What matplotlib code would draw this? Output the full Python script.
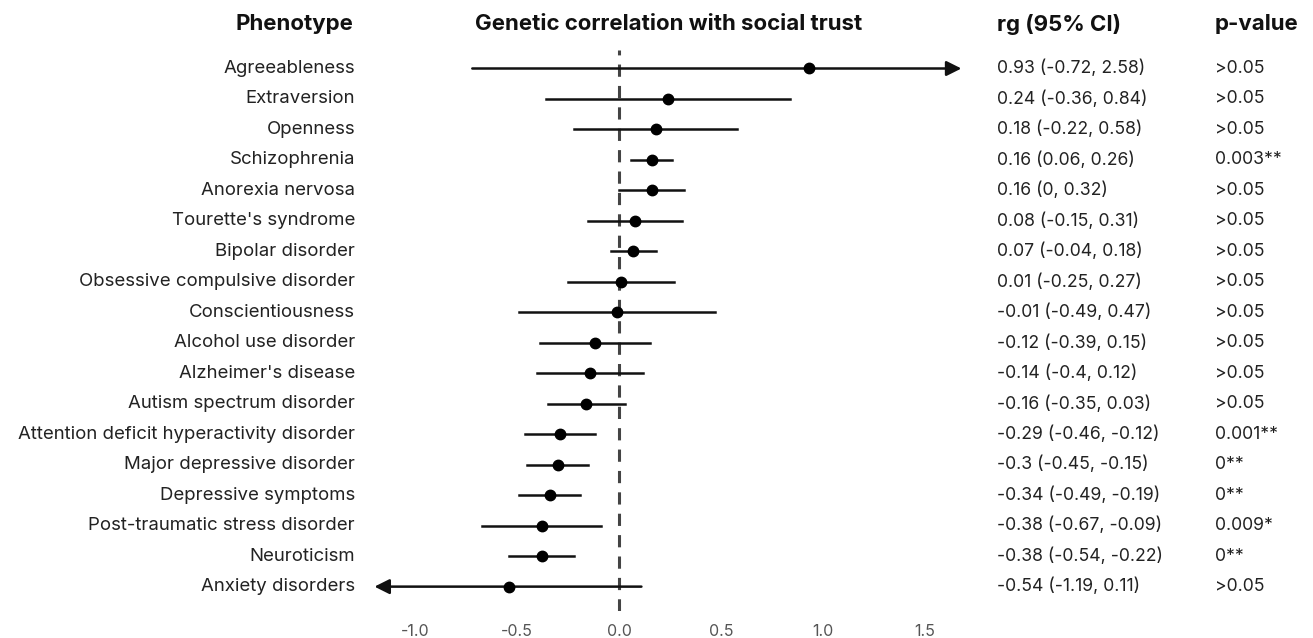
import matplotlib.pyplot as plt
import matplotlib.transforms as mtransforms

plt.rcParams['font.family'] = ['Inter', 'DejaVu Sans']

# Data
phenotypes = ["Agreeableness", "Extraversion", "Openness", "Schizophrenia",
              "Anorexia nervosa", "Tourette's syndrome", "Bipolar disorder",
              "Obsessive compulsive disorder", "Conscientiousness",
              "Alcohol use disorder", "Alzheimer's disease",
              "Autism spectrum disorder",
              "Attention deficit hyperactivity disorder",
              "Major depressive disorder", "Depressive symptoms",
              "Post-traumatic stress disorder", "Neuroticism",
              "Anxiety disorders"]
rg = [0.93, 0.24, 0.18, 0.16, 0.16, 0.08, 0.07, 0.01, -0.01, -0.12, -0.14,
      -0.16, -0.29, -0.3, -0.34, -0.38, -0.38, -0.54]
ci_low = [-0.72, -0.36, -0.22, 0.06, 0, -0.15, -0.04, -0.25, -0.49, -0.39,
          -0.4, -0.35, -0.46, -0.45, -0.49, -0.67, -0.54, -1.19]
ci_high = [2.58, 0.84, 0.58, 0.26, 0.32, 0.31, 0.18, 0.27, 0.47, 0.15, 0.12,
           0.03, -0.12, -0.15, -0.19, -0.09, -0.22, 0.11]
p_labels = [">0.05", ">0.05", ">0.05", "0.003**", ">0.05", ">0.05", ">0.05",
            ">0.05", ">0.05", ">0.05", ">0.05", ">0.05", "0.001**", "0**",
            "0**", "0.009*", "0**", ">0.05"]
xticks = [-1.0, -0.5, 0.0, 0.5, 1.0, 1.5]
x_min, x_max = -1.2, 1.68

fig = plt.figure(figsize=(13.13, 6.38), dpi=100)
ax = fig.add_axes([0.2852, 0.0423, 0.4470, 0.879])
ax.set_xlim(x_min, x_max)
ax.set_ylim(17.8, -0.6)

ax.axvline(0, color='#444444', lw=2.2, linestyle=(0, (4, 3)), zorder=1)

arrow = dict(arrowstyle='-|>,head_length=0.9,head_width=0.45',
             color='#111111', lw=1.8, shrinkA=0, shrinkB=0)
for i in range(len(phenotypes)):
    lo = max(ci_low[i], x_min)
    hi = min(ci_high[i], x_max)
    if ci_high[i] > x_max:
        ax.annotate('', xy=(hi, i), xytext=(lo, i), arrowprops=arrow)
    elif ci_low[i] < x_min + 0.02:
        ax.annotate('', xy=(x_min, i), xytext=(hi, i), arrowprops=arrow)
    else:
        ax.plot([lo, hi], [i, i], color='#111111', lw=1.8, zorder=2)
    ax.plot(rg[i], i, 'o', color='black', markersize=7.5, zorder=3)

ax.set_xticks(xticks)
ax.set_xticklabels([f"{t:.1f}" for t in xticks])
ax.set_yticks([])
ax.tick_params(axis='x', length=0, pad=9, labelsize=11.5, labelcolor='#555555')
for s in ax.spines.values():
    s.set_visible(False)

trans = mtransforms.blended_transform_factory(fig.transFigure, ax.transData)
for i in range(len(phenotypes)):
    ax.text(0.2704, i, phenotypes[i], transform=trans, ha='right', va='center',
            fontsize=13.4, color='#222222')
    ax.text(0.7593, i, f"{rg[i]:g} ({ci_low[i]:g}, {ci_high[i]:g})", transform=trans,
            ha='left', va='center', fontsize=12.7, color='#222222')
    ax.text(0.9254, i, p_labels[i], transform=trans, ha='left', va='center',
            fontsize=12.7, color='#222222')

fig.text(0.2689, 0.962, "Phenotype", ha='right', va='center', fontsize=16,
         fontweight='bold', color='#111111')
fig.text(0.5095, 0.962, "Genetic correlation with social trust", ha='center',
         va='center', fontsize=16, fontweight='bold', color='#111111')
fig.text(0.7593, 0.962, "rg (95% CI)", ha='left', va='center', fontsize=16,
         fontweight='bold', color='#111111')
fig.text(0.9254, 0.962, "p-value", ha='left', va='center', fontsize=16,
         fontweight='bold', color='#111111')

fig.savefig("out.png", dpi=100)
